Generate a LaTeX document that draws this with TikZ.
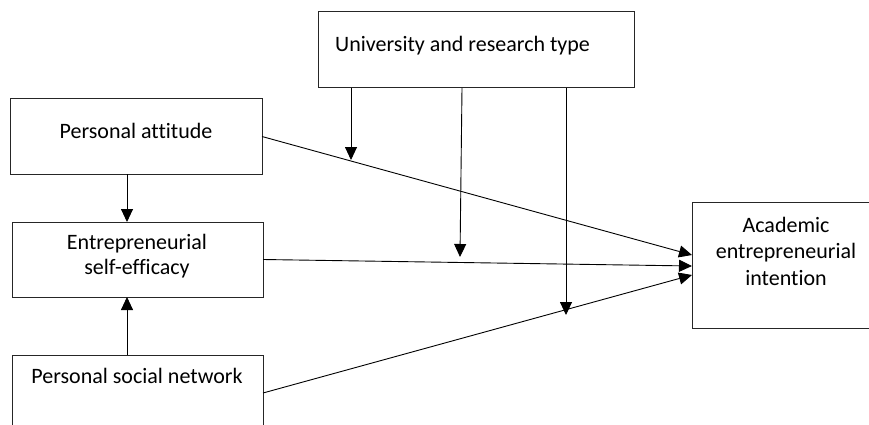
\documentclass[tikz,border=0pt]{standalone}
\usepackage{fontspec}
\setmainfont{Carlito}[Ligatures=NoCommon]
\usetikzlibrary{arrows.meta,calc}
\begin{document}
\begin{tikzpicture}[x=1pt,y=-1pt,
  box/.style={draw=black!85, line width=1pt, inner sep=0pt, outer sep=0pt, fill=white},
  lbl/.style={inner sep=0pt, font=\fontsize{22}{26}\selectfont, anchor=base},
  conn/.style={draw=black, line width=0.9pt, -{Triangle[length=13pt,width=12pt]}}]
\useasboundingbox (0,0) rectangle (869,425);
\clip (0,0) rectangle (869,425);
% boxes
\node[box, minimum width=316pt, minimum height=76pt] (urt) at (476,50) {};
\node[box, minimum width=252pt, minimum height=75pt] (pa) at (136,136.5) {};
\node[box, minimum width=251pt, minimum height=75pt] (ese) at (137.5,259.5) {};
\node[box, minimum width=251pt, minimum height=76pt] (psn) at (137.5,393) {};
\node[box, minimum width=188pt, minimum height=126pt] (aei) at (786,265) {};
% texts
\node[lbl, anchor=base west] (turt) at (335,52) {University and research type};
\node[lbl] (tpa) at (136,139) {Personal attitude};
\node[lbl] (tese1) at (137,249) {Entrepreneurial};
\node[lbl] (tese2) at (137,274) {self-efficacy};
\node[lbl] (tpsn) at (137,383) {Personal social network};
\node[lbl] (taei1) at (786,232) {Academic};
\node[lbl] (taei2) at (786,258) {entrepreneurial};
\node[lbl] (taei3) at (786,285) {intention};
% targets on AEI
\coordinate (a1) at ($(aei.west)+(0,-10)$);
\coordinate (a2) at ($(aei.west)+(0,1)$);
\coordinate (a3) at ($(aei.west)+(0,10)$);
% main connectors
\draw[conn] (pa.east) -- (a1);
\draw[conn] (ese.east) -- (a2);
\draw[conn] (psn.east) -- (a3);
\draw[conn] (pa.south -| 127,0) -- (ese.north -| 127,0);
\draw[conn] (psn.north -| 127,0) -- (ese.south -| 127,0);
% moderator arrows
\coordinate (s1) at (351,88);  \coordinate (t1) at (351,160);
\coordinate (s2) at (462,88);  \coordinate (t2) at (460,257);
\coordinate (s3) at (566,88);  \coordinate (t3) at (566,315);
\draw[conn] (s1) -- (t1);
\draw[conn] (s2) -- (t2);
\draw[conn] (s3) -- (t3);
\end{tikzpicture}
\end{document}
